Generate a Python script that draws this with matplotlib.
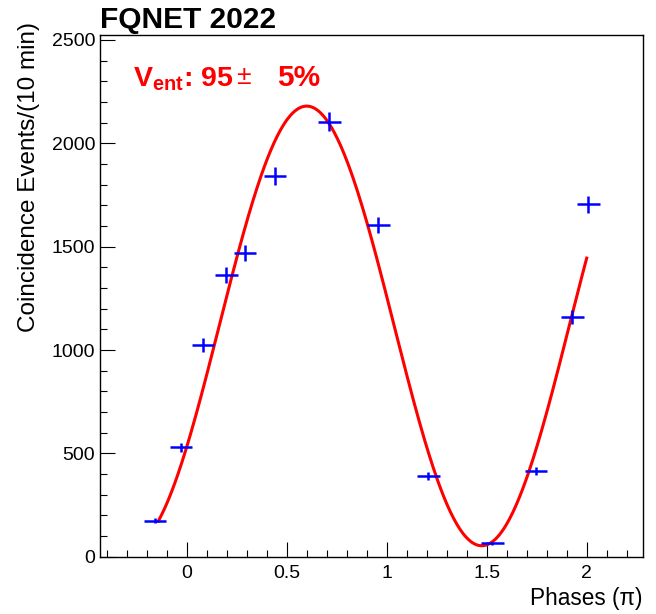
import numpy as np
import matplotlib
matplotlib.use('Agg')
import matplotlib.pyplot as plt
from matplotlib.ticker import MultipleLocator

plt.rcParams['font.family'] = ['Liberation Sans', 'DejaVu Sans']
plt.rcParams['mathtext.fontset'] = 'custom'
plt.rcParams['mathtext.rm'] = 'Liberation Sans:bold'
plt.rcParams['mathtext.bf'] = 'Liberation Sans:bold'

# measured points (phase in units of pi, coincidences per 10 min)
phase = [-0.158, -0.03, 0.08, 0.198, 0.292, 0.44, 0.713, 0.958, 1.208, 1.529, 1.745, 1.928, 2.008]
counts = [174, 529, 1024, 1363, 1468, 1842, 2105, 1605, 392, 65, 416, 1161, 1706]
phase_err = [0.056] * 13
count_err = [13, 23, 32, 37, 38, 43, 46, 40, 20, 8, 20, 34, 41]

# fitted fringe: offset + amp * cos(freq * (x - x_peak))
fit_offset = 1116.5
fit_amp = 1063.5
fit_freq = 3.59
fit_peak = 0.6
fit_range = (-0.142, 2.0)

title = 'FQNET 2022'
xlabel = 'Phases (\u03c0)'
ylabel = 'Coincidence Events/(10 min)'


def fringe(x):
    return fit_offset + fit_amp * np.cos(fit_freq * (x - fit_peak))


fig = plt.figure(figsize=(6.56, 6.14), dpi=100)
ax = fig.add_axes([100 / 656, 57.3 / 614, 543 / 656, 521.7 / 614])

xs = np.linspace(fit_range[0], fit_range[1], 400)
ax.plot(xs, fringe(xs), color='#ff0000', lw=2.2, zorder=2)
ax.errorbar(phase, counts, xerr=phase_err, yerr=count_err, fmt='none',
            ecolor='#0000ff', elinewidth=1.8, capsize=0, zorder=3)

ax.set_xlim(-0.4335, 2.2815)
ax.set_ylim(0, 2524)
ax.xaxis.set_major_locator(MultipleLocator(0.5))
ax.xaxis.set_minor_locator(MultipleLocator(0.1))
ax.yaxis.set_major_locator(MultipleLocator(500))
ax.yaxis.set_minor_locator(MultipleLocator(100))
ax.xaxis.set_major_formatter(plt.FuncFormatter(lambda v, p: '%g' % v))
ax.tick_params(which='both', direction='in', top=False, right=False,
               labelsize=14, width=0.8, colors='black')
ax.tick_params(which='major', length=10.8)
ax.tick_params(which='minor', length=5.2)
ax.tick_params(axis='x', pad=6)
ax.tick_params(axis='y', pad=3.5)
for s in ax.spines.values():
    s.set_linewidth(1.0)

ax.set_xlabel(xlabel, fontsize=16.3, loc='right')
ax.xaxis.set_label_coords(1.0, -0.058)
ax.set_ylabel(ylabel, fontsize=17.5, loc='top')
ax.yaxis.set_label_coords(-0.111, 1.025)

fig.text(100 / 656, 1 - 28.3 / 614, title, fontsize=21.5, fontweight='bold',
         va='baseline', ha='left')
# fit result label, placed piecewise like the ROOT TLatex
fig.text(133 / 656, 1 - 86 / 614, r'$\mathbf{V}_{\mathbf{ent}}$: 95',
         color='#ff0000', fontsize=20.5, fontweight='bold',
         va='baseline', ha='left')
fig.text(236 / 656, 1 - 84 / 614, '\u00b1', color='#ff0000', fontsize=19,
         va='baseline', ha='left')
fig.text(277 / 656, 1 - 86 / 614, '5%', color='#ff0000', fontsize=21.5,
         fontweight='bold', va='baseline', ha='left')

fig.savefig('out.png', dpi=100)
